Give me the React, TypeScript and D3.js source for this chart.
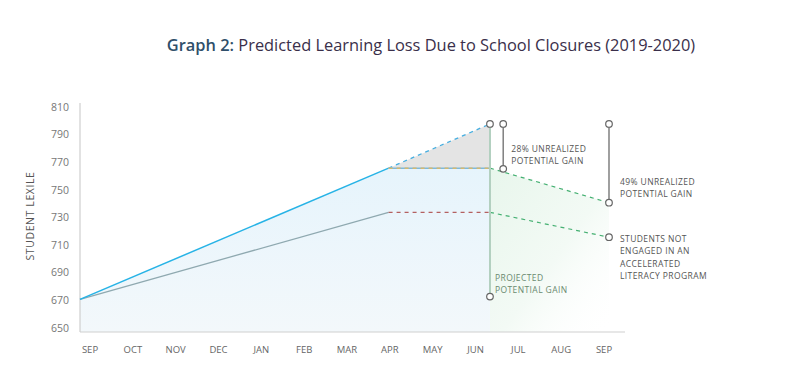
import React from "react";
import * as d3 from "d3";

const months = ["SEP", "OCT", "NOV", "DEC", "JAN", "FEB", "MAR", "APR", "MAY", "JUN", "JUL", "AUG", "SEP"];
const yTicks = [650, 670, 690, 710, 730, 750, 770, 790, 810];

type P = { m: number; v: number };
const engaged: P[] = [{ m: 0, v: 670 }, { m: 7, v: 765 }];
const notEngaged: P[] = [{ m: 0, v: 670 }, { m: 7, v: 733 }];
const projected: P[] = [{ m: 7, v: 765 }, { m: 9.3, v: 797 }];
const plateauEngaged: P[] = [{ m: 7, v: 765 }, { m: 9.3, v: 765 }];
const plateauNot: P[] = [{ m: 7, v: 733 }, { m: 9.3, v: 733 }];
const lossEngaged: P[] = [{ m: 9.3, v: 765 }, { m: 12, v: 740 }];
const lossNot: P[] = [{ m: 9.3, v: 733 }, { m: 12, v: 715 }];
const projectedGain = { m: 9.3, top: 797, bottom: 672 };
const brackets = [
  { m: 9.6, top: 797, bottom: 764.5, label: ["28% UNREALIZED", "POTENTIAL GAIN"] },
  { m: 12, top: 797, bottom: 740, label: ["49% UNREALIZED", "POTENTIAL GAIN"] },
];
const notEngagedLabel = ["STUDENTS NOT", "ENGAGED IN AN", "ACCELERATED", "LITERACY PROGRAM"];
const projectedLabel = ["PROJECTED", "POTENTIAL GAIN"];

export default function App() {
  const W = 812, H = 379;
  const x = d3.scaleLinear().domain([0, 12]).range([80, 609]);
  const xl = d3.scalePoint<number>().domain(months.map((_, i) => i)).range([90, 604]);
  const y = d3.scaleLinear().domain([650, 810]).range([327, 106]);
  const line = d3.line<P>().x((d) => x(d.m)).y((d) => y(d.v));
  const base = y(650) + 5;
  const font = "'Open Sans', 'Noto Sans', sans-serif";

  const blueArea = d3.area<P>().x((d) => x(d.m)).y0(base).y1((d) => y(d.v))([
    ...engaged,
    plateauEngaged[1],
  ]);
  const triangle = d3.line<P>().x((d) => x(d.m)).y((d) => y(d.v))([
    projected[0], projected[1], plateauEngaged[1],
  ]) + "Z";
  const greenArea = d3.area<P>().x((d) => x(d.m)).y0(base).y1((d) => y(d.v))(lossEngaged);

  const dash = "4,4";
  return (
    <svg width={W} height={H} style={{ position: "absolute", left: 0, top: 0, background: "#fff" }}>
      <defs>
        <linearGradient id="blueG" x1="0" y1="0" x2="0" y2="1">
          <stop offset="0%" stopColor="#e6f4fc" />
          <stop offset="100%" stopColor="#f3f8fb" />
        </linearGradient>
        <linearGradient id="greenG" x1="0" y1="0" x2="1" y2="1">
          <stop offset="0%" stopColor="#e8f6ec" />
          <stop offset="55%" stopColor="#f3faf5" />
          <stop offset="100%" stopColor="#ffffff" stopOpacity="0" />
        </linearGradient>
      </defs>
      <text x={431} y={51} textAnchor="middle" fontFamily={font} fontSize={16.4} fill="#3a2f4a">
        <tspan fill="#2f4f6a" fontWeight={600}>Graph 2:</tspan> Predicted Learning Loss Due to School Closures (2019-2020)
      </text>

      <path d={blueArea || ""} fill="url(#blueG)" />
      <path d={greenArea || ""} fill="url(#greenG)" />
      <path d={triangle} fill="#e4e4e4" />

      {/* axes */}
      <line x1={80} x2={80} y1={103} y2={base} stroke="#cfcfcf" strokeWidth={1.2} />
      <line x1={80} x2={625} y1={base} y2={base} stroke="#cfcfcf" strokeWidth={1.2} />
      {yTicks.map((t) => (
        <text key={t} x={69} y={y(t) + 1} dy="0.35em" textAnchor="end" fontFamily={font} fontSize={10.5} fill="#777">
          {t}
        </text>
      ))}
      {months.map((m, i) => (
        <text key={i} x={xl(i)} y={350} dy="0.35em" textAnchor="middle" fontFamily={font} fontSize={9.5} fill="#666">
          {m}
        </text>
      ))}
      <text transform={`translate(30,216) rotate(-90)`} textAnchor="middle" dy="0.35em" fontFamily={font} fontSize={10.5} letterSpacing={0.6} fill="#555">
        STUDENT LEXILE
      </text>

      {/* lines */}
      <path d={line(notEngaged) || ""} fill="none" stroke="#8fa9b0" strokeWidth={1.3} />
      <path d={line(engaged) || ""} fill="none" stroke="#27b3e6" strokeWidth={1.5} />
      <path d={line(projected) || ""} fill="none" stroke="#46aee0" strokeWidth={1.3} strokeDasharray={dash} />
      <path d={line(plateauEngaged) || ""} fill="none" stroke="#7fb9da" strokeWidth={1.5} />
      <path d={line(plateauEngaged) || ""} fill="none" stroke="#d6b870" strokeWidth={1.5} strokeDasharray={dash} />
      <path d={line(plateauNot) || ""} fill="none" stroke="#b46060" strokeWidth={1.2} strokeDasharray={dash} />
      <path d={line(lossEngaged) || ""} fill="none" stroke="#45b072" strokeWidth={1.2} strokeDasharray={dash} />
      <path d={line(lossNot) || ""} fill="none" stroke="#45b072" strokeWidth={1.2} strokeDasharray={dash} />

      {/* projected gain vertical */}
      <line x1={x(projectedGain.m)} x2={x(projectedGain.m)} y1={y(projectedGain.top)} y2={y(projectedGain.bottom)} stroke="#b3d0c0" strokeWidth={2} />
      <circle cx={x(projectedGain.m)} cy={y(projectedGain.top)} r={3.3} fill="#fff" stroke="#666" strokeWidth={1.2} />
      <circle cx={x(projectedGain.m)} cy={y(projectedGain.bottom)} r={3.3} fill="#fff" stroke="#666" strokeWidth={1.2} />
      {projectedLabel.map((s, i) => (
        <text key={i} x={x(projectedGain.m) + 5} y={y(projectedGain.bottom) - 19 + i * 12} dy="0.35em" fontFamily={font} fontSize={8.5} letterSpacing={0.4} fill="#6a8a70">
          {s}
        </text>
      ))}

      {/* brackets */}
      {brackets.map((b, bi) => (
        <g key={bi}>
          <line x1={x(b.m)} x2={x(b.m)} y1={y(b.top)} y2={y(b.bottom)} stroke="#777" strokeWidth={1.4} />
          <circle cx={x(b.m)} cy={y(b.top)} r={3.3} fill="#fff" stroke="#666" strokeWidth={1.2} />
          <circle cx={x(b.m)} cy={y(b.bottom)} r={3.3} fill="#fff" stroke="#666" strokeWidth={1.2} />
          {b.label.map((s, i) => (
            <text key={i} x={x(b.m) + (bi === 0 ? 8 : 11)} y={(bi === 0 ? 149 : 182) + i * 12.5} dy="0.35em" fontFamily={font} fontSize={8.5} letterSpacing={0.4} fill="#555">
              {s}
            </text>
          ))}
        </g>
      ))}

      <circle cx={x(12)} cy={y(715)} r={3.3} fill="#fff" stroke="#666" strokeWidth={1.2} />
      {notEngagedLabel.map((s, i) => (
        <text key={i} x={x(12) + 11} y={y(715) + 2 + i * 12.2} dy="0.35em" fontFamily={font} fontSize={8.5} letterSpacing={0.4} fill="#555">
          {s}
        </text>
      ))}
    </svg>
  );
}
